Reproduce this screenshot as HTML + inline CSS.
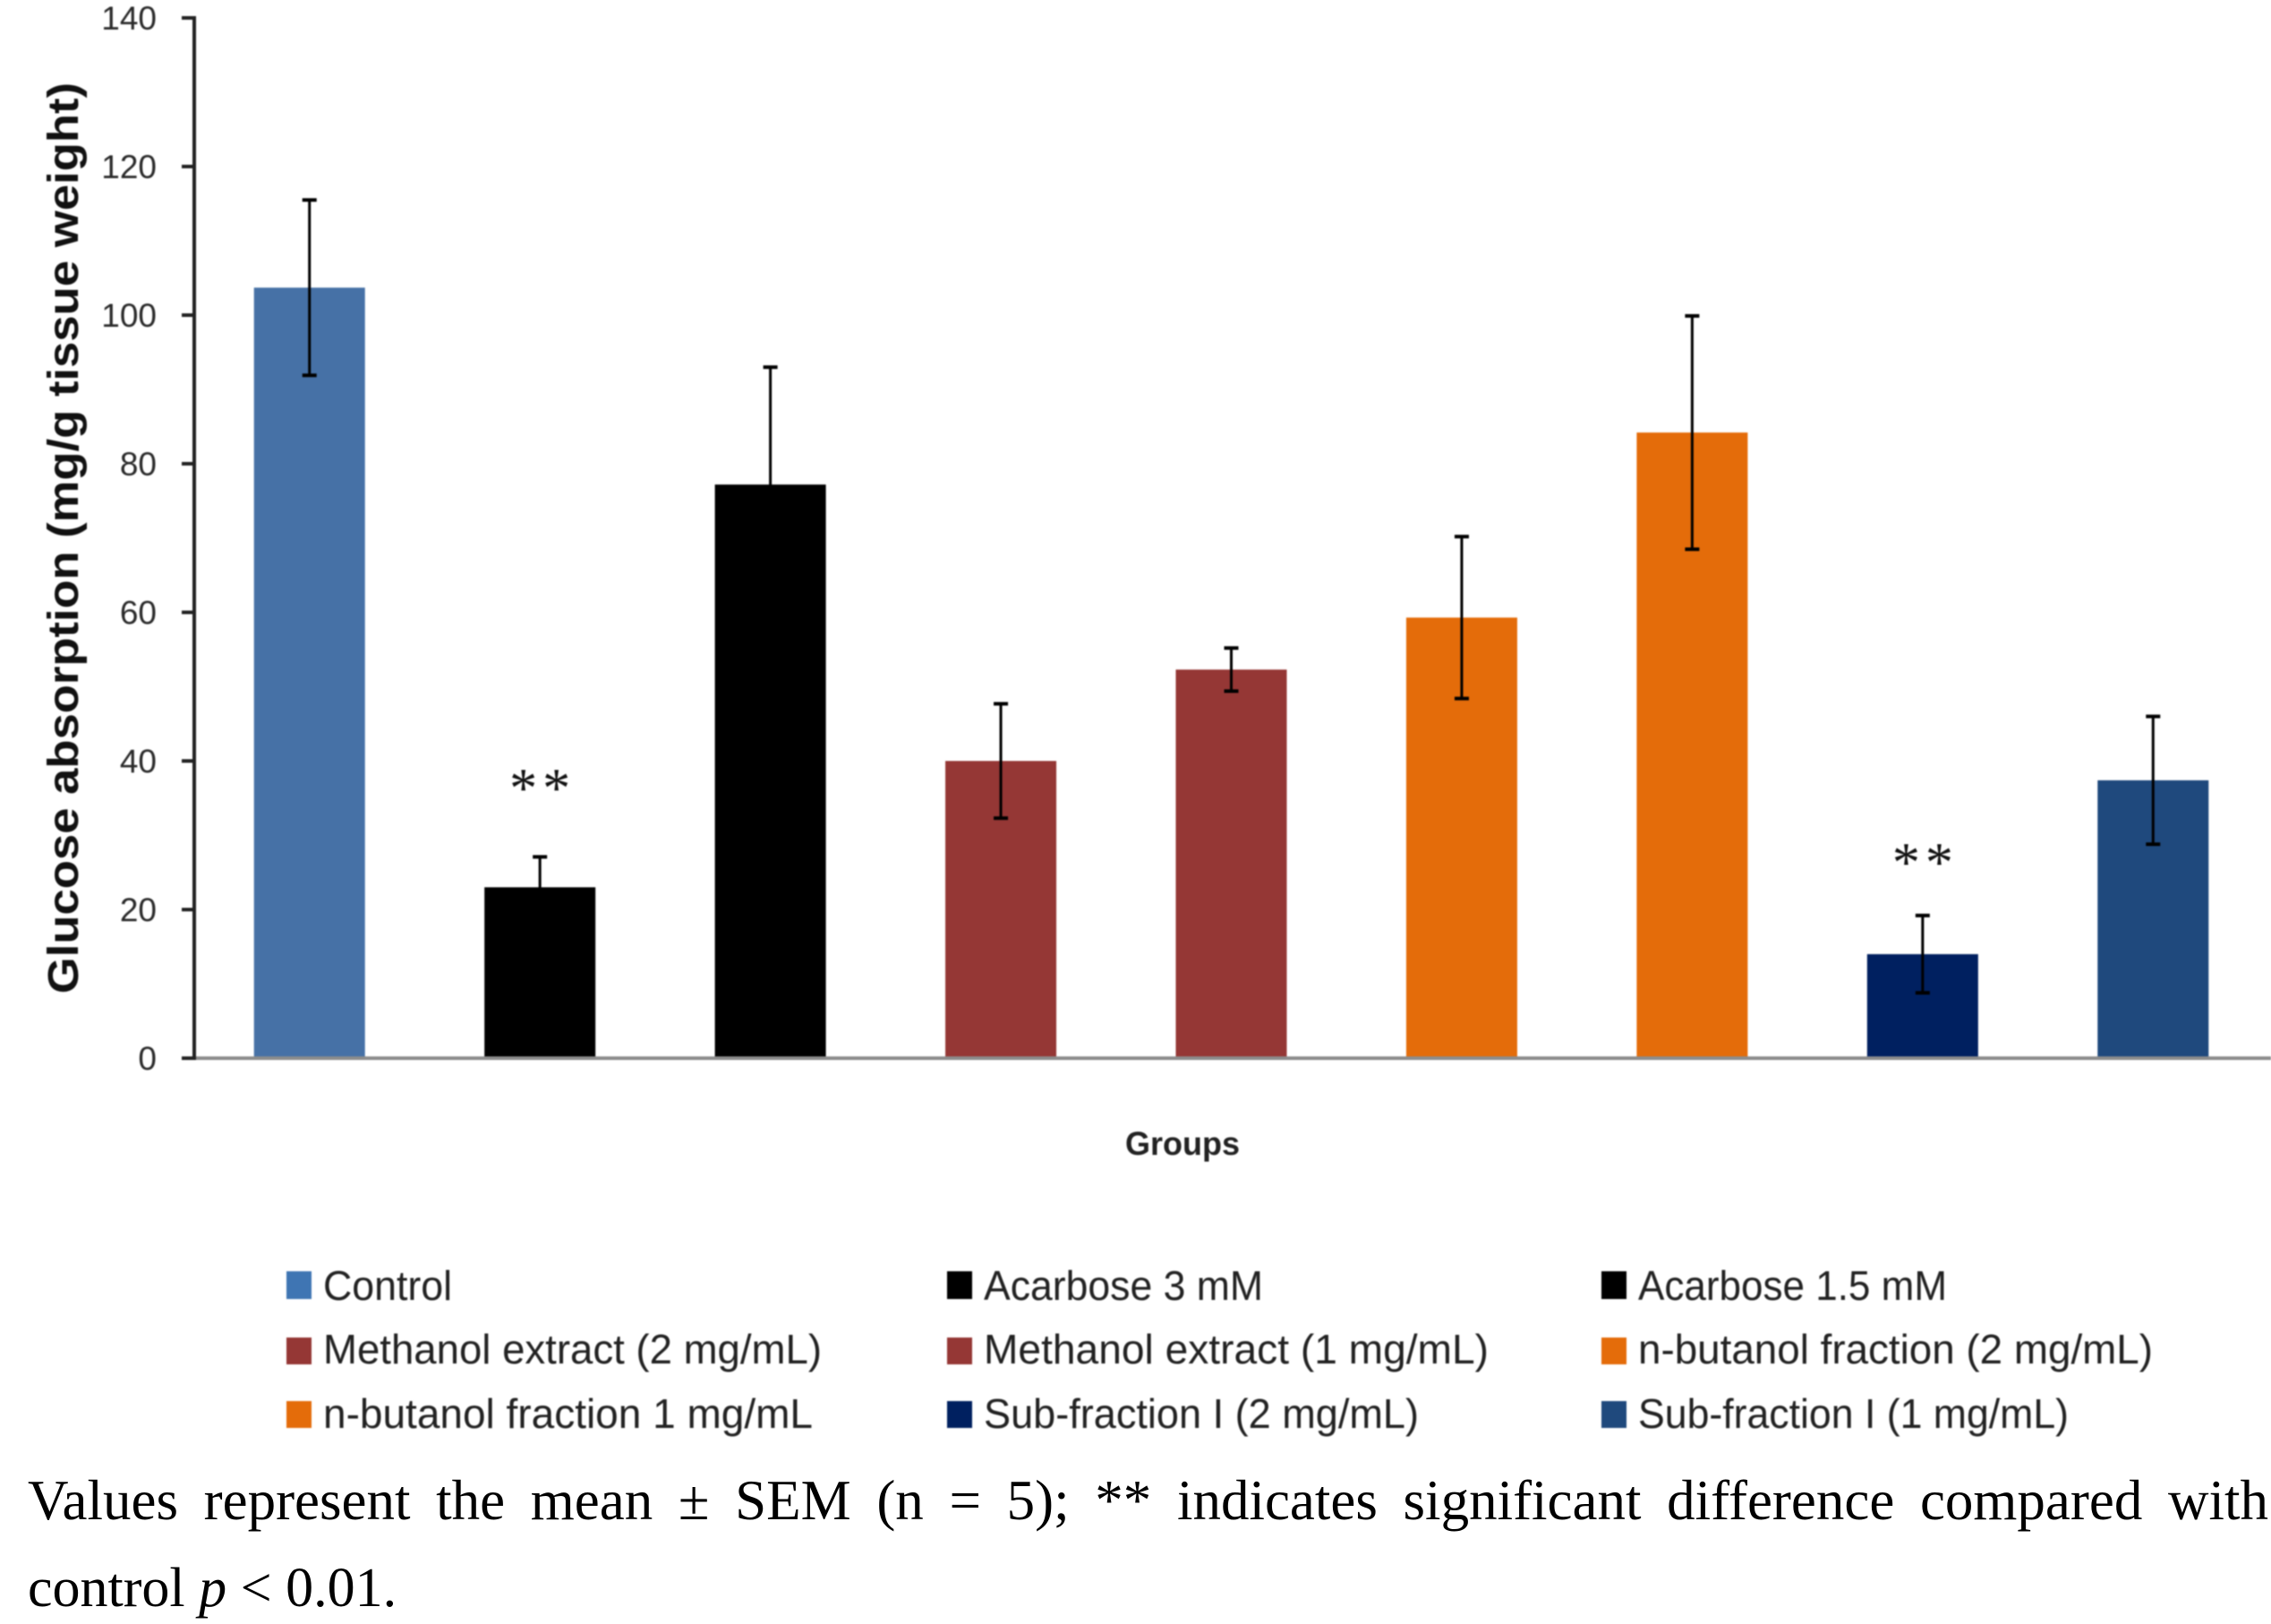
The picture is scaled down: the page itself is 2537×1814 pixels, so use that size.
<!DOCTYPE html>
<html lang="en">
<head>
<meta charset="utf-8">
<title>Glucose absorption chart</title>
<style>
html,body{margin:0;padding:0;background:#fff;}
#page{position:relative;width:2537px;height:1814px;overflow:hidden;background:#fff;}
#chart{position:absolute;left:0;top:0;filter:blur(0.7px);}
.caption{position:absolute;left:31px;font-family:"Liberation Serif",serif;font-size:63px;line-height:70px;color:#000;white-space:nowrap;}
#caption-line-1{width:2503px;top:1641px;white-space:normal;text-align:justify;text-align-last:justify;}
#caption-line-2{top:1739px;font-size:62px;}
.tick{font-family:"Liberation Sans",sans-serif;font-size:37px;fill:#2a2a2a;}
.legend-text{font-family:"Liberation Sans",sans-serif;font-size:46px;fill:#222;}
</style>
</head>
<body>
<div id="page">
<svg id="chart" width="2537" height="1814" viewBox="0 0 2537 1814" xmlns="http://www.w3.org/2000/svg">
  <g id="marks"></g>
  <g id="axes"></g>
  <text transform="translate(87,1110) rotate(-90)" font-family="Liberation Sans, sans-serif" font-weight="700" font-size="48" fill="#111" textLength="1018" lengthAdjust="spacingAndGlyphs">Glucose absorption (mg/g tissue weight)</text>
  <text x="1257" y="1290" font-family="Liberation Sans, sans-serif" font-weight="700" font-size="37" fill="#222" textLength="128" lengthAdjust="spacingAndGlyphs">Groups</text>

  <g>
    <g><rect x="320" y="1420" width="28" height="31" fill="#3f75b3"/><text class="legend-text" x="361" y="1452" textLength="144" lengthAdjust="spacingAndGlyphs">Control</text></g>
    <g><rect x="1058" y="1420" width="28" height="31" fill="#000"/><text class="legend-text" x="1099" y="1452" textLength="312" lengthAdjust="spacingAndGlyphs">Acarbose 3 mM</text></g>
    <g><rect x="1789" y="1420" width="28" height="31" fill="#000"/><text class="legend-text" x="1830" y="1452" textLength="345" lengthAdjust="spacingAndGlyphs">Acarbose 1.5 mM</text></g>
    <g><rect x="320" y="1494" width="28" height="30" fill="#953735"/><text class="legend-text" x="361" y="1523" textLength="557" lengthAdjust="spacingAndGlyphs">Methanol extract (2 mg/mL)</text></g>
    <g><rect x="1058" y="1494" width="28" height="30" fill="#953735"/><text class="legend-text" x="1099" y="1523" textLength="564" lengthAdjust="spacingAndGlyphs">Methanol extract (1 mg/mL)</text></g>
    <g><rect x="1789" y="1494" width="28" height="30" fill="#e46c0a"/><text class="legend-text" x="1830" y="1523" textLength="575" lengthAdjust="spacingAndGlyphs">n-butanol fraction (2 mg/mL)</text></g>
    <g><rect x="320" y="1565" width="28" height="30" fill="#e46c0a"/><text class="legend-text" x="361" y="1595" textLength="547" lengthAdjust="spacingAndGlyphs">n-butanol fraction 1 mg/mL</text></g>
    <g><rect x="1058" y="1565" width="28" height="30" fill="#002060"/><text class="legend-text" x="1099" y="1595" textLength="486" lengthAdjust="spacingAndGlyphs">Sub-fraction I (2 mg/mL)</text></g>
    <g><rect x="1789" y="1565" width="28" height="30" fill="#1f497d"/><text class="legend-text" x="1830" y="1595" textLength="481" lengthAdjust="spacingAndGlyphs">Sub-fraction I (1 mg/mL)</text></g>
  </g>
</svg>
<div id="caption-line-1" class="caption">Values represent the mean ± SEM (n = 5); ** indicates significant difference compared with</div>
<div id="caption-line-2" class="caption">control <i>p</i> &lt; 0.01.</div>
</div>
<script>
var categories = ["Control","Acarbose 3 mM","Acarbose 1.5 mM","Methanol extract (2 mg/mL)","Methanol extract (1 mg/mL)","n-butanol fraction (2 mg/mL)","n-butanol fraction 1 mg/mL","Sub-fraction I (2 mg/mL)","Sub-fraction I (1 mg/mL)"];
var means = [103.7,23,77.2,40,52.3,59.3,84.2,14,37.4];
var sems = [11.8,4.1,15.8,7.7,2.9,10.9,15.7,5.2,8.6];
var significanceLevels = [null,36.6,null,null,null,null,null,26.6,null];
var yTickValues = [0,20,40,60,80,100,120,140];
var barColors = ["#4671a6","#000000","#000000","#953735","#953735","#e46c0a","#e46c0a","#002060","#1f497d"];

var NS = "http://www.w3.org/2000/svg";
var plotLeft = 217, plotRight = 2534, plotBottom = 1182, plotTop = 20, yMax = 140;
var barWidth = 124;
function yScale(v){ return plotBottom - (v / yMax) * (plotBottom - plotTop); }
function xScale(i){ return plotLeft + (i + 0.5) * (plotRight - plotLeft) / categories.length; }
function make(tag, attrs){
  var el = document.createElementNS(NS, tag);
  for (var k in attrs) el.setAttribute(k, attrs[k]);
  return el;
}
var marks = document.getElementById("marks");
var axes = document.getElementById("axes");

categories.forEach(function(cat, i){
  var cx = xScale(i), top = yScale(means[i]);
  var bar = make("rect", {x: cx - barWidth / 2, y: top, width: barWidth, height: plotBottom - top, fill: barColors[i]});
  
  
  marks.appendChild(bar);
});

var xAxis = make("line", {x1: plotLeft, x2: 2537, y1: plotBottom, y2: plotBottom, stroke: "#8c8c8c", "stroke-width": 4});


axes.appendChild(xAxis);

var yAxis = make("line", {x1: 217, x2: 217, y1: yScale(yMax) - 2, y2: plotBottom + 2, stroke: "#222", "stroke-width": 4});


axes.appendChild(yAxis);

yTickValues.forEach(function(t){
  var y = yScale(t);
  var tick = make("line", {x1: 203, x2: 217, y1: y, y2: y, stroke: "#222", "stroke-width": 4});
  
  
  axes.appendChild(tick);
  var label = make("text", {x: 175, y: y + 13, "text-anchor": "end", "class": "tick"});
  
  
  label.textContent = t;
  axes.appendChild(label);
});

categories.forEach(function(cat, i){
  var cx = xScale(i), hi = yScale(means[i] + sems[i]), lo = yScale(means[i] - sems[i]);
  var stem = make("line", {x1: cx, x2: cx, y1: hi, y2: lo, stroke: "#000", "stroke-width": 3});
  
  
  marks.appendChild(stem);
  var capHigh = make("line", {x1: cx - 8, x2: cx + 8, y1: hi, y2: hi, stroke: "#000", "stroke-width": 4});
  
  
  marks.appendChild(capHigh);
  var capLow = make("line", {x1: cx - 8, x2: cx + 8, y1: lo, y2: lo, stroke: "#000", "stroke-width": 4});
  
  
  marks.appendChild(capLow);
  if (significanceLevels[i] !== null) {
    var star = make("text", {x: cx + 3, y: yScale(significanceLevels[i]) + 23, "text-anchor": "middle", "font-family": "Liberation Serif, serif", "font-size": 62, "letter-spacing": 6, fill: "#111"});
    
    
    star.textContent = "**";
    marks.appendChild(star);
  }
});
</script>
</body>
</html>
